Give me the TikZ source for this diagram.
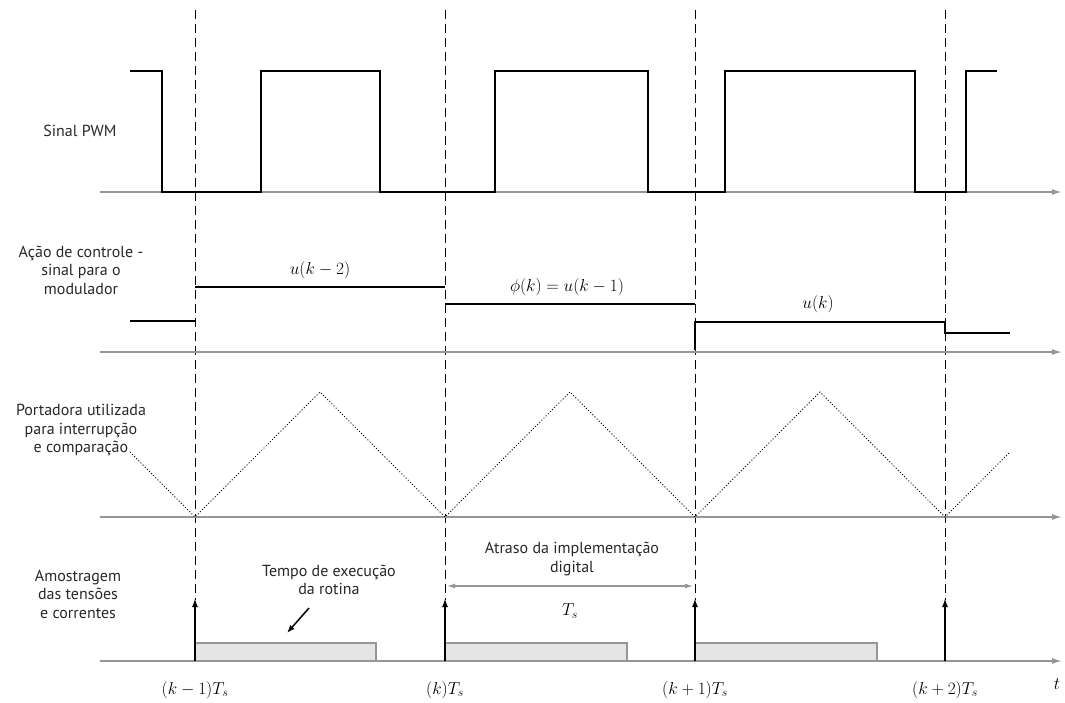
\documentclass[tikz,border=0pt]{standalone}
\usepackage{fontspec}
\setsansfont{PT Sans}
\usetikzlibrary{arrows.meta}
\definecolor{axisgray}{RGB}{150,150,150}
\definecolor{boxfill}{RGB}{228,228,228}
\definecolor{txtgray}{RGB}{40,40,40}
\begin{document}
\begin{tikzpicture}[x=1pt,y=-1pt,
  axis/.style={draw=axisgray, line width=1.6pt, -{Latex[length=10pt,width=6pt]}},
  sig/.style={line width=2.4pt, line join=miter},
  gridline/.style={dash pattern=on 9pt off 5pt, line width=1pt},
  carrier/.style={dotted, line width=1pt},
  lbl/.style={font=\fontsize{16}{18.5}\selectfont\sffamily, align=center, text=txtgray},
  mlbl/.style={font=\fontsize{17}{20}\selectfont},
  samp/.style={line width=2pt, -{Latex[length=9pt,width=6pt]}},
  exbox/.style={fill=boxfill, draw=axisgray, line width=1.2pt}]
\useasboundingbox (0,0) rectangle (1065,702);
% dashed sampling instants
\foreach \x in {195,445,695,945} {\draw[gridline] (\x,10) -- (\x,600);}
% axes
\draw[axis] (100,192) -- (1062,192);
\draw[axis] (100,352) -- (1062,352);
\draw[axis] (100,517) -- (1062,517);
% PWM
\draw[sig] (130,71) -- (162,71) -- (162,192) -- (261,192) -- (261,71) -- (380,71) -- (380,192)
  -- (495,192) -- (495,71) -- (648,71) -- (648,192) -- (725,192) -- (725,71) -- (915,71)
  -- (915,192) -- (966,192) -- (966,71) -- (997,71);
% control action
\draw[sig] (130,321) -- (195,321);
\draw[sig] (195,287) -- (445,287);
\draw[sig] (445,304) -- (695,304);
\draw[sig] (695,350) -- (695,322) -- (945,322) -- (945,333) -- (1010,333);
\node[mlbl] (u2) at (320,270) {$u(k-2)$};
\node[mlbl] (u1) at (567,287) {$\phi(k)=u(k-1)$};
\node[mlbl] (u0) at (818,304) {$u(k)$};
% carrier
\draw[carrier] (130,452) -- (195,517) -- (320,392) -- (445,517) -- (570,392) -- (695,517)
  -- (820,392) -- (945,517) -- (1010,452);
% sampling
\draw[exbox] (195,661) rectangle (376,643);
\draw[exbox] (445,661) rectangle (627,643);
\draw[exbox] (695,661) rectangle (877,643);
\draw[axis] (100,661) -- (1062,661);
\foreach \x in {195,445,695,945} {\draw[samp] (\x,661) -- (\x,598);}
\node[lbl] (texec) at (329,580) {Tempo de execução\\da rotina};
\coordinate (ta) at (309,608);
\coordinate (tb) at (287,633);
\draw[line width=1.5pt, -{Latex[length=8pt,width=6pt]}] (ta) -- (tb);
\node[lbl] (atr) at (572,559) {Atraso da implementação\\digital};
\coordinate (da) at (447,586);
\coordinate (db) at (693,586);
\draw[draw=axisgray, line width=1.3pt, {Latex[length=8pt,width=5pt]}-{Latex[length=8pt,width=5pt]}] (da) -- (db);
\node[mlbl] (ts) at (570,611) {$T_s$};
% time labels
\node[mlbl] (t1) at (195,690) {$(k-1)T_s$};
\node[mlbl] (t2) at (445,690) {$(k)T_s$};
\node[mlbl] (t3) at (695,690) {$(k+1)T_s$};
\node[mlbl] (t4) at (945,690) {$(k+2)T_s$};
\node[mlbl] (tt) at (1057,684) {$t$};
% left labels
\node[lbl] (l1) at (80,131) {Sinal PWM};
\node[lbl] (l2) at (81,270) {Ação de controle -\\sinal para o\\modulador};
\node[lbl] (l3) at (81,430) {Portadora utilizada\\para interrupção\\e comparação};
\node[lbl] (l4) at (78,594) {Amostragem\\das tensões\\e correntes};
\end{tikzpicture}
\end{document}
